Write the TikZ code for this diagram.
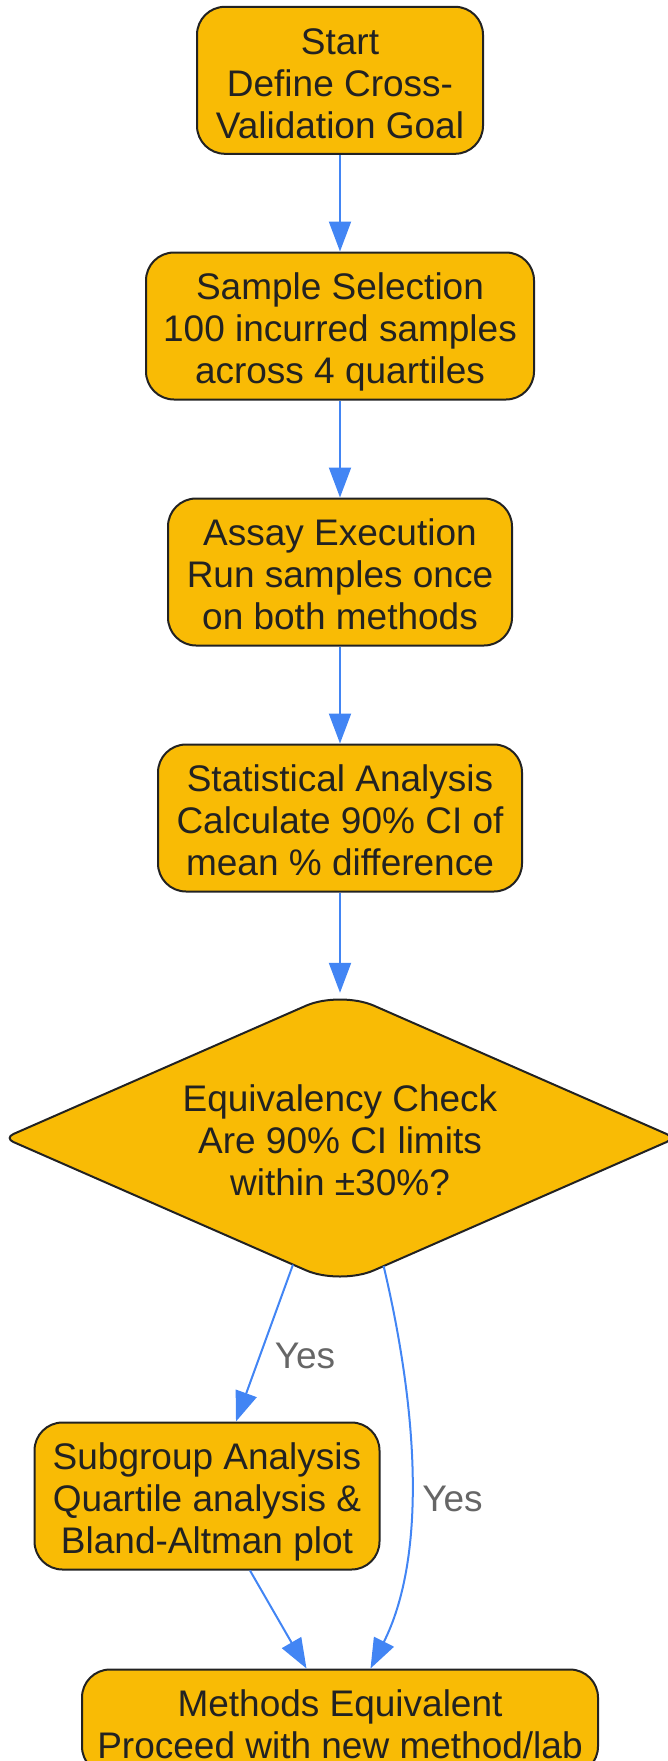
\documentclass[tikz,border=0pt]{standalone}
\usepackage{fontspec}
\setmainfont{Liberation Sans}
\usetikzlibrary{shapes.geometric,arrows.meta,calc}
\definecolor{fillc}{HTML}{F9BB05}
\definecolor{bordc}{HTML}{222222}
\definecolor{textc}{HTML}{222222}
\definecolor{arrc}{HTML}{4285F4}
\definecolor{lblc}{HTML}{666666}
\newcommand\myTopS{\rule{0pt}{41.4pt}}
\newcommand\myBotS{\rule[-10pt]{0pt}{10pt}}
\tikzset{
  box/.style={draw=bordc, line width=2pt, fill=fillc, rounded corners=28pt, align=center,
    font=\fontsize{37}{42}\selectfont, text=textc, minimum height=147pt, inner sep=0pt},
  decision/.style={shape=diamond, align=center, font=\fontsize{37}{42}\selectfont, text=textc,
    inner sep=0pt, aspect=2.28, minimum width=671pt, minimum height=294pt},
  dedge/.style={draw=bordc, line width=2pt, fill=fillc},
  arr/.style={draw=arrc, line width=2pt, -{Triangle[length=30pt,width=22pt]}},
  lbl/.style={font=\fontsize{37}{42}\selectfont, text=lblc, inner sep=0pt}
}
\begin{document}
\begin{tikzpicture}[x=1pt,y=-1pt]
\useasboundingbox (0,0) rectangle (668,1761);
\clip (0,0) rectangle (668,1761);
\node[box, minimum width=286pt] (start) at (340,80.3) {\myTopS Start\\Define Cross-\\Validation Goal\myBotS};
\node[box, minimum width=388pt] (sample) at (340,326) {\myTopS Sample Selection\\100 incurred samples\\across 4 quartiles\myBotS};
\node[box, minimum width=344pt] (assay) at (340,572) {\myTopS Assay Execution\\Run samples once\\on both methods\myBotS};
\node[box, minimum width=364pt] (stat) at (340,818) {\myTopS Statistical Analysis\\Calculate 90\% CI of\\mean \% difference\myBotS};
\node[decision] (dia) at (340,1138) {};
\path[dedge] ($(dia.west)!0.5!(dia.north)$) [rounded corners=37pt] -- (dia.north) -- ($(dia.north)!0.5!(dia.east)$)
  [rounded corners=10pt] -- (dia.east) -- ($(dia.east)!0.5!(dia.south)$)
  [rounded corners=37pt] -- (dia.south) -- ($(dia.south)!0.5!(dia.west)$)
  [rounded corners=10pt] -- (dia.west) -- cycle;
\node[decision] (diatext) at (340,1138) {\myTopS Equivalency Check\\Are 90\% CI limits\\within ±30\%?\myBotS};
\node[box, minimum width=516pt, minimum height=105pt] (meth) at (340,1722) {\myTopS Methods Equivalent\\Proceed with new method/lab\myBotS};
\node[box, minimum width=345pt] (sub) at (207,1496) {\myTopS Subgroup Analysis\\Quartile analysis \&\\Bland-Altman plot\myBotS};

\draw[arr] (start.south) -- (sample.north);
\draw[arr] (sample.south) -- (assay.north);
\draw[arr] (assay.south) -- (stat.north);
\draw[arr] (stat.south) -- ([yshift=-2pt]dia.north);
\draw[arr] ($(dia.south)!0.14!(dia.west)$) -- ([xshift=29pt]sub.north);
\draw[arr] ($(dia.south)!0.13!(dia.east)$) .. controls (420,1420) and (425,1560) .. ([xshift=30.5pt]meth.north);
\draw[arr] ([xshift=43pt]sub.south) -- ([xshift=-33.5pt]meth.north);
\node[lbl] (y1) at (305,1356) {Yes};
\node[lbl] (y2) at (452.5,1499) {Yes};
\end{tikzpicture}
\end{document}
